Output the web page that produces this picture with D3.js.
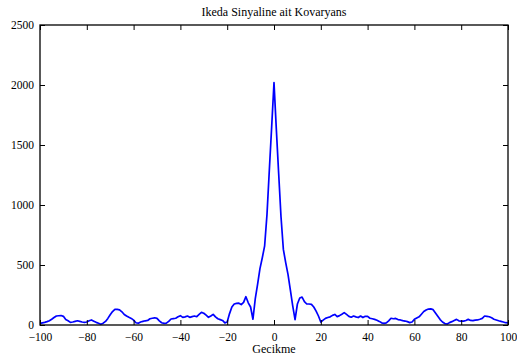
<!DOCTYPE html>
<html>
<head>
<meta charset="utf-8">
<script src="https://cdn.jsdelivr.net/npm/d3@7"></script>
<style>
  html, body { margin: 0; padding: 0; background: #fff; }
  svg { display: block; }
  text { font-family: "Liberation Serif", "Times New Roman", serif; fill: #000; }
</style>
</head>
<body>
<svg id="chart" width="517" height="363"></svg>
<script>
// Lags of the covariance sequence
const lags = d3.range(-100, 101);

// Covariance values for lags -100 .. -1
const covNegative = [
  14, 18, 22, 28, 36, 48, 62, 75, 77, 79,
  72, 45, 35, 22, 25, 30, 35, 30, 25, 22,
  25, 35, 42, 32, 22, 14, 6, 15, 30, 55,
  85, 112, 130, 130, 126, 110, 88, 75, 64, 55,
  40, 19, 15, 25, 30, 35, 38, 52, 56, 60,
  55, 35, 19, 14, 15, 30, 50, 53, 56, 68,
  78, 64, 68, 75, 64, 70, 75, 69, 88, 105,
  98, 82, 64, 75, 89, 68, 52, 45, 38, 18,
  25, 95, 150, 175, 180, 182, 170, 188, 236, 185,
  150, 48, 220, 340, 470, 560, 660, 920, 1290, 1650
];

// Covariance at lag 0
const covZero = [2020];

// Covariance values for lags 1 .. 100
const covPositive = [
  1630, 1260, 900, 630, 520, 420, 290, 160, 45, 175,
  225, 232, 195, 175, 175, 172, 150, 115, 75, 25,
  40, 55, 62, 68, 80, 88, 70, 78, 90, 103,
  88, 72, 65, 75, 68, 62, 75, 62, 72, 72,
  56, 52, 47, 40, 30, 18, 14, 18, 35, 56,
  52, 55, 45, 42, 36, 33, 28, 20, 25, 47,
  58, 68, 90, 112, 125, 133, 134, 128, 100, 72,
  45, 25, 12, 8, 20, 28, 38, 47, 35, 33,
  32, 38, 47, 38, 36, 40, 42, 48, 55, 75,
  72, 69, 60, 48, 42, 35, 30, 25, 19, 17
];

const covariance = covNegative.concat(covZero, covPositive);

// Axis ticks and labels
const xTicks = [-100, -80, -60, -40, -20, 0, 20, 40, 60, 80, 100];
const yTicks = [0, 500, 1000, 1500, 2000, 2500];
const titleText = "Ikeda Sinyaline ait Kovaryans";
const xLabelText = "Gecikme";

const margin = { top: 25, right: 9, bottom: 38, left: 40 };
const width = 517, height = 363;
const svg = d3.select("#chart");

const x = d3.scaleLinear().domain([-100, 100]).range([margin.left, width - margin.right]);
const y = d3.scaleLinear().domain([0, 2500]).range([height - margin.bottom, margin.top]);

const data = lags.map((l, i) => ({ lag: l, value: covariance[i] }));

// Data line
const line = d3.line().x(d => x(d.lag)).y(d => y(d.value));
svg.append("path")
  .datum(data)
  .attr("fill", "none")
  .attr("stroke", "#0000ff")
  .attr("stroke-width", 1.7)
  .attr("stroke-linejoin", "round")
  .attr("d", line);

const tickLen = 5;
const fontSize = "11.5px";

// Bottom axis: ticks pointing inward, labels below
const xAxisBottom = d3.axisBottom(x).tickValues(xTicks).tickSizeInner(-tickLen).tickSizeOuter(0)
  .tickPadding(tickLen + 3).tickFormat(d3.format("d"));
const gxb = svg.append("g").attr("transform", `translate(0,${y(0)})`).call(xAxisBottom);

// Top axis: ticks only
const xAxisTop = d3.axisTop(x).tickValues(xTicks).tickSizeInner(-tickLen).tickSizeOuter(0).tickFormat("");
const gxt = svg.append("g").attr("transform", `translate(0,${y(2500)})`).call(xAxisTop);

// Left axis: ticks pointing inward, labels to the left
const yAxisLeft = d3.axisLeft(y).tickValues(yTicks).tickSizeInner(-tickLen).tickSizeOuter(0)
  .tickPadding(tickLen + 1).tickFormat(d3.format("d"));
const gyl = svg.append("g").attr("transform", `translate(${x(-100)},0)`).call(yAxisLeft);

// Right axis: ticks only
const yAxisRight = d3.axisRight(y).tickValues(yTicks).tickSizeInner(-tickLen).tickSizeOuter(0).tickFormat("");
const gyr = svg.append("g").attr("transform", `translate(${x(100)},0)`).call(yAxisRight);

[gxb, gxt, gyl, gyr].forEach(g => {
  g.select(".domain").remove();
  g.selectAll(".tick line").attr("stroke", "#000").attr("stroke-width", 1);
  g.selectAll(".tick text")
    .style("font-family", '"Liberation Serif", "Times New Roman", serif')
    .style("font-size", fontSize)
    .attr("fill", "#000");
});

// Plot frame
svg.append("rect")
  .attr("x", x(-100))
  .attr("y", y(2500))
  .attr("width", x(100) - x(-100))
  .attr("height", y(0) - y(2500))
  .attr("fill", "none")
  .attr("stroke", "#000")
  .attr("stroke-width", 1.3);

// Title
svg.append("text")
  .attr("x", (x(-100) + x(100)) / 2)
  .attr("y", 16)
  .attr("text-anchor", "middle")
  .style("font-size", "12px")
  .text(titleText);

// X axis label
svg.append("text")
  .attr("x", (x(-100) + x(100)) / 2)
  .attr("y", 353)
  .attr("text-anchor", "middle")
  .style("font-size", "12px")
  .text(xLabelText);
</script>
</body>
</html>
